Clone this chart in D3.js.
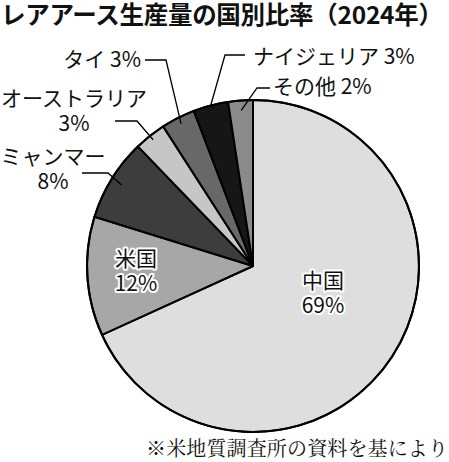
<!DOCTYPE html>
<html>
<head>
<meta charset="utf-8">
<title>レアアース生産量の国別比率</title>
<script src="https://cdn.jsdelivr.net/npm/d3@7"></script>
<style>
  body { margin: 0; background: #fff; }
  text { font-family: 'Noto Sans CJK JP', 'Noto Sans', sans-serif; fill: #111; }
</style>
</head>
<body>
<svg id="chart"></svg>
<script>
  // shares (clockwise from 12 o'clock)
  var countries = ['中国', '米国', 'ミャンマー', 'オーストラリア', 'タイ', 'ナイジェリア', 'その他'];
  var shares = [68.2, 11.6, 8.0, 3.1, 3.3, 3.4, 2.4];
  var pctLabels = ['69%', '12%', '8%', '3%', '3%', '3%', '2%'];
  var fills = ['#dedede', '#a7a7a7', '#3d3d3d', '#c6c6c6', '#686868', '#161616', '#8b8b8b'];

  var width = 449, height = 462;
  var cx = 253, cy = 266, r = 166;

  var svg = d3.select('#chart')
    .attr('width', width)
    .attr('height', height);

  svg.append('text')
    .attr('x', 1)
    .attr('y', 24)
    .style('font-size', '24.5px')
    .style('font-weight', 'bold')
    .attr('textLength', 442)
    .text('レアアース生産量の国別比率（2024年）');

  var pie = d3.pie().sort(null).value(d => d);
  var arcs = pie(shares);
  var arc = d3.arc().innerRadius(0).outerRadius(r);

  var g = svg.append('g')
    .attr('transform', 'translate(' + cx + ',' + cy + ')');

  g.selectAll('path')
    .data(arcs)
    .enter()
    .append('path')
    .attr('d', arc)
    .style('fill', (d, i) => fills[i])
    .style('stroke', '#000')
    .style('stroke-width', 2)
    .style('stroke-linejoin', 'round');

  g.append('circle')
    .attr('r', r)
    .style('fill', 'none')
    .style('stroke', '#000')
    .style('stroke-width', 2);

  // two-line label as one text element
  function twoLine(x, y, a, b, halo) {
    var t = svg.append('text')
      .attr('text-anchor', 'middle')
      .style('font-size', '21px');
    if (halo) {
      t.style('stroke', '#fff')
        .style('stroke-width', 4)
        .style('paint-order', 'stroke')
        .style('stroke-linejoin', 'round');
    }
    t.append('tspan').attr('x', x).attr('y', y).text(a);
    t.append('tspan').attr('x', x).attr('y', y + 25).text(b);
  }

  // labels inside the pie (white halo)
  twoLine(323, 288, countries[0], pctLabels[0], true);
  twoLine(136, 266, countries[1], pctLabels[1], true);

  // labels outside with leader lines
  var outside = [
    { i: 2, x: 53, y: 164, anchor: 'middle', from: [82, 173], elbow: [108, 173], k: 0.93 },
    { i: 3, x: 74, y: 106, anchor: 'middle', from: [115, 121], elbow: [137, 121], k: 0.97 },
    { i: 4, x: 141, y: 67, anchor: 'end', from: [145, 60], elbow: [166, 60], k: 0.96 },
    { i: 5, x: 253, y: 64, anchor: 'start', from: [245, 55], elbow: [225, 55], k: 1.0 },
    { i: 6, x: 273, y: 94, anchor: 'start', from: [270, 88], elbow: [257, 88], k: 0.94 }
  ];

  outside.forEach(function (p) {
    var a = arcs[p.i];
    var mid = (a.startAngle + a.endAngle) / 2;
    var end = [cx + Math.sin(mid) * r * p.k, cy - Math.cos(mid) * r * p.k];
    svg.append('path')
      .attr('d', d3.line()([p.from, p.elbow, end]))
      .style('fill', 'none')
      .style('stroke', '#000')
      .style('stroke-width', 1.3);

    if (p.anchor == 'middle') {
      twoLine(p.x, p.y, countries[p.i], pctLabels[p.i], false);
    } else {
      svg.append('text')
        .attr('x', p.x)
        .attr('y', p.y)
        .attr('text-anchor', p.anchor)
        .style('font-size', '21px')
        .text(countries[p.i] + ' ' + pctLabels[p.i]);
    }
  });

  svg.append('text')
    .attr('x', 448)
    .attr('y', 456)
    .attr('text-anchor', 'end')
    .style('font-family', "'Noto Serif CJK JP', 'Noto Sans CJK JP', serif")
    .style('font-size', '20px')
    .attr('textLength', 302)
    .text('※米地質調査所の資料を基により');
</script>
</body>
</html>
